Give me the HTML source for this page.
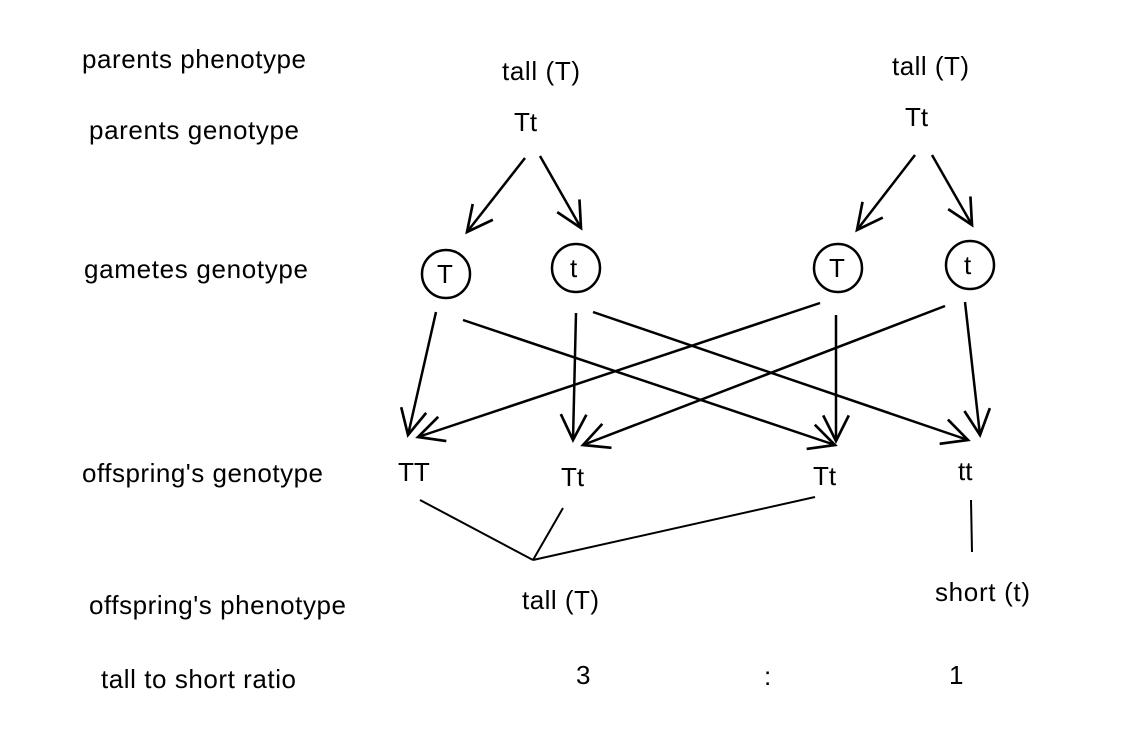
<!DOCTYPE html>
<html><head><style>body{margin:0;background:#fff}</style></head><body>
<svg width="1141" height="742" xmlns="http://www.w3.org/2000/svg" font-family="Liberation Sans, sans-serif" font-size="26" fill="#000">
<defs><marker id="a" markerUnits="userSpaceOnUse" markerWidth="32" markerHeight="32" refX="26" refY="13" orient="auto" viewBox="0 0 30 26"><path d="M2,1 L26,13 L2,25" fill="none" stroke="#000" stroke-width="2.5"/></marker></defs>
<g>
<text x="82" y="68" textLength="224">parents phenotype</text>
<text x="89" y="139" textLength="210">parents genotype</text>
<text x="84" y="278" textLength="224">gametes genotype</text>
<text x="82" y="482" textLength="241">offspring's genotype</text>
<text x="89" y="614" textLength="257">offspring's phenotype</text>
<text x="101" y="688" textLength="195">tall to short ratio</text>
<text x="502" y="80" textLength="78">tall (T)</text>
<text x="892" y="75" textLength="77">tall (T)</text>
<text x="514" y="131">Tt</text>
<text x="905" y="126">Tt</text>
<text x="398" y="481">TT</text>
<text x="561" y="486">Tt</text>
<text x="813" y="485">Tt</text>
<text x="958" y="480">tt</text>
<text x="522" y="609" textLength="77">tall (T)</text>
<text x="935" y="601" textLength="95">short (t)</text>
<text x="576" y="684">3</text>
<text x="764" y="685">:</text>
<text x="949" y="684">1</text>
</g>
<g fill="none" stroke="#000" stroke-width="2.5">
<circle cx="446" cy="274" r="24"/><circle cx="576" cy="268" r="24"/>
<circle cx="838" cy="268" r="24"/><circle cx="970" cy="265" r="24"/>
</g>
<text x="437" y="283">T</text><text x="570" y="277">t</text>
<text x="829" y="277">T</text><text x="964" y="274">t</text>
<g stroke="#000" stroke-width="2.5" marker-end="url(#a)">
<line x1="525" y1="158" x2="467" y2="232"/>
<line x1="540" y1="156" x2="581" y2="228"/>
<line x1="915" y1="155" x2="857" y2="230"/>
<line x1="932" y1="155" x2="972" y2="225"/>
<line x1="436" y1="312" x2="408" y2="435"/>
<line x1="463" y1="320" x2="835" y2="445"/>
<line x1="576" y1="313" x2="573" y2="440"/>
<line x1="593" y1="312" x2="968" y2="440"/>
<line x1="820" y1="303" x2="418" y2="437"/>
<line x1="836" y1="315" x2="836" y2="441"/>
<line x1="945" y1="306" x2="583" y2="445"/>
<line x1="965" y1="302" x2="980" y2="435"/>
</g>
<g stroke="#000" stroke-width="2">
<line x1="420" y1="500" x2="533" y2="560"/>
<line x1="563" y1="508" x2="533" y2="560"/>
<line x1="533" y1="560" x2="815" y2="497"/>
<line x1="971" y1="500" x2="972" y2="552"/>
</g>
</svg>
</body></html>
